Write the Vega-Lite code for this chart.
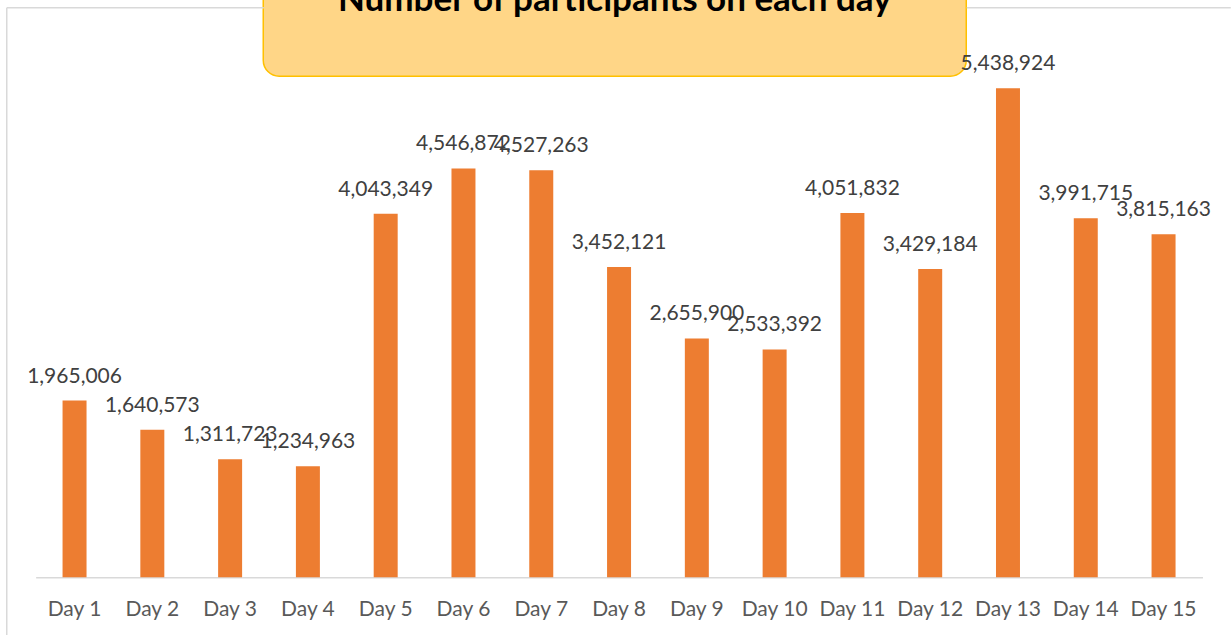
{
  "$schema": "https://vega.github.io/schema/vega-lite/v6.json",
  "padding": {"left": 6.25, "top": -30.75, "right": 6.25, "bottom": -1},
  "background": "#FFFFFF",
  "bounds": "flush",
  "center": true,
  "spacing": 0,
  "datasets": {
    "days": [
      {"day": "Day 1", "participants": 1965006},
      {"day": "Day 2", "participants": 1640573},
      {"day": "Day 3", "participants": 1311723},
      {"day": "Day 4", "participants": 1234963},
      {"day": "Day 5", "participants": 4043349},
      {"day": "Day 6", "participants": 4546872},
      {"day": "Day 7", "participants": 4527263},
      {"day": "Day 8", "participants": 3452121},
      {"day": "Day 9", "participants": 2655900},
      {"day": "Day 10", "participants": 2533392},
      {"day": "Day 11", "participants": 4051832},
      {"day": "Day 12", "participants": 3429184},
      {"day": "Day 13", "participants": 5438924},
      {"day": "Day 14", "participants": 3991715},
      {"day": "Day 15", "participants": 3815163}
    ],
    "heading": [{"title": "Number of participants on each day"}]
  },
  "vconcat": [
    {
      "width": 703,
      "height": 106,
      "data": {"name": "heading"},
      "view": {"fill": "#FFD687", "stroke": "#FFC000", "strokeWidth": 1.5, "cornerRadius": 16},
      "mark": {"type": "text", "font": "Lato", "fontWeight": "bold", "fontSize": 35, "color": "#000000", "baseline": "alphabetic", "align": "center", "dy": -12},
      "encoding": {"text": {"field": "title", "type": "nominal"}}
    },
    {
      "width": 1217,
      "height": 559,
      "data": {"name": "days"},
      "view": {"stroke": null},
      "resolve": {"scale": {"x": "independent"}, "axis": {"x": "independent"}},
      "layer": [
        {
          "mark": {"type": "bar", "color": "#ED7D31"},
          "encoding": {
            "x": {
              "field": "day",
              "type": "nominal",
              "sort": null,
              "scale": {"type": "band", "range": [29.4, 1196.2], "paddingInner": 0.6916, "paddingOuter": 0.3458},
              "axis": {
                "title": null,
                "orient": "bottom",
                "offset": -58,
                "domainColor": "#D9D9D9",
                "domainWidth": 1.5,
                "ticks": false,
                "tickSize": 0,
                "grid": false,
                "labelAngle": 0,
                "labelPadding": 21,
                "labelFont": "Lato",
                "labelFontSize": 21,
                "labelColor": "#595959"
              }
            },
            "y": {
              "field": "participants",
              "type": "quantitative",
              "scale": {"domain": [-645107, 6339840], "range": [559, -69], "nice": false, "zero": true},
              "axis": {
                "title": null,
                "orient": "left",
                "offset": 0,
                "domain": true,
                "domainColor": "#D9D9D9",
                "domainWidth": 1.5,
                "ticks": false,
                "labels": false,
                "grid": false
              }
            }
          }
        },
        {
          "mark": {"type": "text", "font": "Lato", "fontSize": 21, "color": "#404040", "baseline": "alphabetic", "align": "center", "dy": -18},
          "encoding": {
            "x": {
              "field": "day",
              "type": "nominal",
              "sort": null,
              "scale": {"type": "band", "range": [0, 1224], "paddingInner": 0, "paddingOuter": 0.3676, "align": 0.514},
              "axis": {
                "title": null,
                "orient": "top",
                "offset": 69,
                "domainColor": "#D9D9D9",
                "domainWidth": 1.5,
                "domainDash": [257, 703, 400],
                "ticks": false,
                "labels": false,
                "grid": false
              }
            },
            "y": {"field": "participants", "type": "quantitative"},
            "text": {"field": "participants", "type": "quantitative", "format": ","}
          }
        }
      ]
    }
  ]
}
